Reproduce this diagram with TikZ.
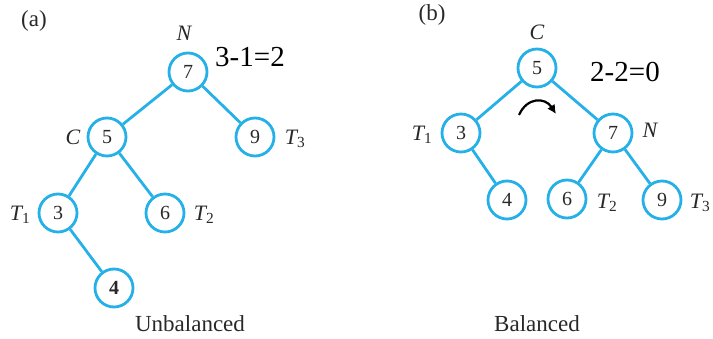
\documentclass[tikz,border=0pt]{standalone}
\usepackage{fontspec}
\setmainfont{Liberation Serif}
\usetikzlibrary{arrows.meta}
\definecolor{treeblue}{RGB}{38,176,232}
\definecolor{txt}{RGB}{40,40,40}
\begin{document}
\begin{tikzpicture}[x=1pt,y=-1pt,
  tnode/.style={circle,draw=treeblue,line width=2.8pt,minimum size=38pt,inner sep=0pt,font=\fontsize{20}{20}\selectfont,text=txt},
  link/.style={treeblue,line width=2.8pt},
  lbl/.style={font=\fontsize{22}{22}\selectfont\itshape,text=txt,inner sep=0pt},
  captext/.style={font=\fontsize{23}{23}\selectfont,text=txt,inner sep=0pt}]
\useasboundingbox (0,0) rectangle (713,339);
% (a)
\node[captext] (la) at (34,21) {(a)};
\node[tnode] (a7) at (188,72) {7};
\node[tnode] (a5) at (107,137) {5};
\node[tnode] (a9) at (255,137) {9};
\node[tnode] (a3) at (58,213) {3};
\node[tnode] (a6) at (165,213) {6};
\node[tnode] (a4) at (114,288) {\bfseries 4};
\draw[link] (a7) -- (a5);
\draw[link] (a7) -- (a9);
\draw[link] (a5) -- (a3);
\draw[link] (a5) -- (a6);
\draw[link] (a3) -- (a4);
\node[lbl] (aN) at (184,33) {N};
\node[lbl] (aC) at (73,137) {C};
\node[lbl] (aT3) at (295,139) {T\textsubscript{\upshape 3}};
\node[lbl] (aT1) at (20,215) {T\textsubscript{\upshape 1}};
\node[lbl] (aT2) at (204,215) {T\textsubscript{\upshape 2}};
\node[font=\fontsize{29}{29}\selectfont,text=black,inner sep=0pt] (abal) at (250,57) {3-1=2};
\node[captext] (unb) at (190,324) {Unbalanced};
% (b)
\node[captext] (lb) at (432,15) {(b)};
\node[tnode] (b5) at (537,68) {5};
\node[tnode] (b3) at (461,133) {3};
\node[tnode] (b7) at (613,133) {7};
\node[tnode] (b4) at (507,200) {4};
\node[tnode] (b6) at (567,199) {6};
\node[tnode] (b9) at (662,200) {9};
\draw[link] (b5) -- (b3);
\draw[link] (b5) -- (b7);
\draw[link] (b3) -- (b4);
\draw[link] (b7) -- (b6);
\draw[link] (b7) -- (b9);
\node[lbl] (bC) at (537,32) {C};
\node[lbl] (bN) at (650,130) {N};
\node[lbl] (bT1) at (422,135) {T\textsubscript{\upshape 1}};
\node[lbl] (bT2) at (607,203) {T\textsubscript{\upshape 2}};
\node[lbl] (bT3) at (700,203) {T\textsubscript{\upshape 3}};
\node[font=\fontsize{29}{29}\selectfont,text=black,inner sep=0pt] (bbal) at (625,72) {2-2=0};
\coordinate (r1) at (519,115);
\coordinate (r2) at (556,114);
\draw[black,line width=2.2pt,-{Latex[length=9pt,width=9pt]}] (r1) .. controls (527,97) and (545,97) .. (r2);
\node[captext] (bal) at (537,324) {Balanced};
\end{tikzpicture}
\end{document}
